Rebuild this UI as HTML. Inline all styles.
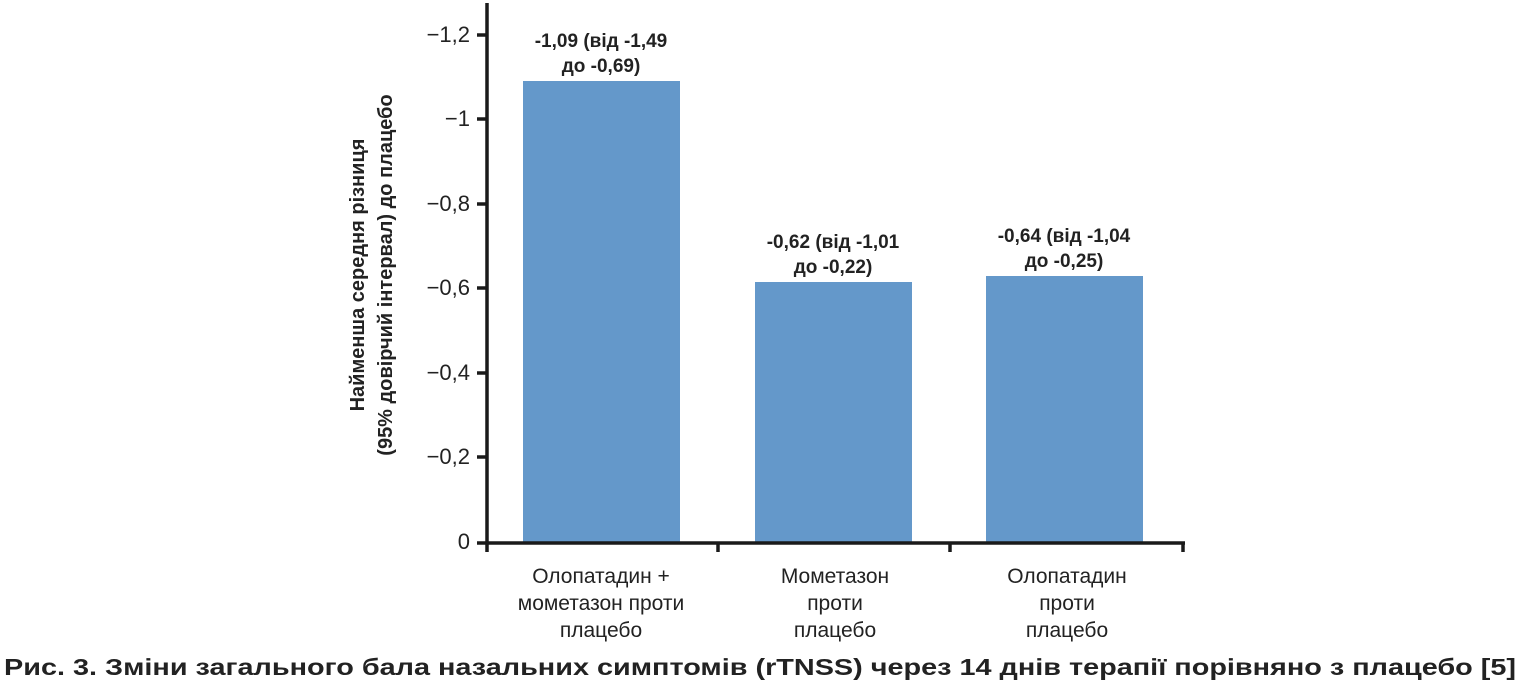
<!DOCTYPE html>
<html><head><meta charset="utf-8"><style>
html,body{margin:0;padding:0;background:#fff;}
svg{display:block;}
</style></head><body>
<svg width="1526" height="696" viewBox="0 0 1526 696" xmlns="http://www.w3.org/2000/svg">
<g fill="#6498ca">
<rect x="523" y="81" width="157" height="461"/>
<rect x="755" y="282" width="157" height="260"/>
<rect x="986" y="276" width="157" height="266"/>
</g>
<g stroke="#1a1a1a" stroke-width="3.5" fill="none">
<line x1="487" y1="3" x2="487" y2="552"/>
<line x1="477" y1="543" x2="1185" y2="543"/>
<line x1="477" y1="35" x2="487" y2="35"/>
<line x1="477" y1="119" x2="487" y2="119"/>
<line x1="477" y1="204" x2="487" y2="204"/>
<line x1="477" y1="288" x2="487" y2="288"/>
<line x1="477" y1="373" x2="487" y2="373"/>
<line x1="477" y1="457" x2="487" y2="457"/>
<line x1="718" y1="543" x2="718" y2="552"/>
<line x1="950" y1="543" x2="950" y2="552"/>
<line x1="1183" y1="543" x2="1183" y2="552"/>
</g>
<g font-family="Liberation Sans, sans-serif" font-size="22" fill="#222" text-anchor="end">
<text x="470" y="42">−1,2</text>
<text x="470" y="126">−1</text>
<text x="470" y="211">−0,8</text>
<text x="470" y="295">−0,6</text>
<text x="470" y="380">−0,4</text>
<text x="470" y="464">−0,2</text>
<text x="470" y="549">0</text>
</g>
<g font-family="Liberation Sans, sans-serif" font-size="19" fill="#222" text-anchor="middle" font-weight="bold">
<text x="601" y="47">-1,09 (від -1,49</text>
<text x="601" y="72">до -0,69)</text>
<text x="833" y="248">-0,62 (від -1,01</text>
<text x="833" y="273">до -0,22)</text>
<text x="1064" y="242">-0,64 (від -1,04</text>
<text x="1064" y="267">до -0,25)</text>
</g>
<g font-family="Liberation Sans, sans-serif" font-size="21" fill="#222" text-anchor="middle">
<text x="601" y="583">Олопатадин +</text>
<text x="601" y="610">мометазон проти</text>
<text x="601" y="637">плацебо</text>
<text x="835" y="583">Мометазон</text>
<text x="835" y="610">проти</text>
<text x="835" y="637">плацебо</text>
<text x="1067" y="583">Олопатадин</text>
<text x="1067" y="610">проти</text>
<text x="1067" y="637">плацебо</text>
</g>
<g font-family="Liberation Sans, sans-serif" font-size="20" font-weight="bold" fill="#222" text-anchor="middle">
<text transform="translate(364,275) rotate(-90)">Найменша середня різниця</text>
<text transform="translate(392,275) rotate(-90)">(95% довірчий інтервал) до плацебо</text>
</g>
<text x="760" y="675" font-family="Liberation Sans, sans-serif" font-size="23" font-weight="bold" fill="#222" text-anchor="middle" textLength="1512" lengthAdjust="spacingAndGlyphs">Рис. 3. Зміни загального бала назальних симптомів (rTNSS) через 14 днів терапії порівняно з плацебо [5]</text>
</svg>
</body></html>
